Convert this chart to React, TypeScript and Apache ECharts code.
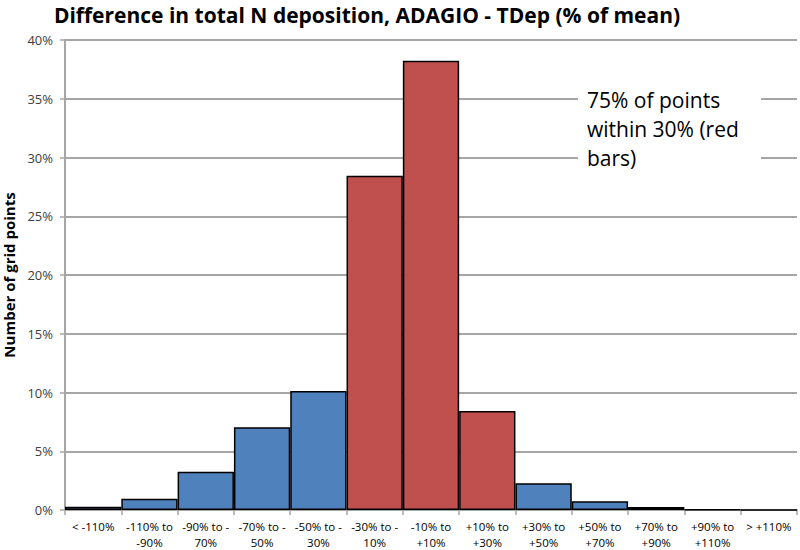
import React, { useEffect, useRef } from "react";
import * as echarts from "echarts";

const categories = [
  "< -110%",
  "-110% to\n-90%",
  "-90% to -\n70%",
  "-70% to -\n50%",
  "-50% to -\n30%",
  "-30% to -\n10%",
  "-10% to\n+10%",
  "+10% to\n+30%",
  "+30% to\n+50%",
  "+50% to\n+70%",
  "+70% to\n+90%",
  "+90% to\n+110%",
  "> +110%",
];
const percentOfPoints = [0.28, 0.95, 3.26, 7.04, 10.13, 28.45, 38.24, 8.43, 2.27, 0.74, 0.26, 0.03, 0];
const withinThirty = [false, false, false, false, false, true, true, true, false, false, false, false, false];
const yTicks = { min: 0, max: 40, interval: 5 };
const titleText = "Difference in total N deposition, ADAGIO - TDep (% of mean)";
const noteText = "75% of points\nwithin 30% (red\nbars)";

const BLUE = "#4F81BD";
const RED = "#C0504D";

export default function App() {
  const ref = useRef<HTMLDivElement>(null);
  useEffect(() => {
    if (!ref.current) return;
    const chart = echarts.init(ref.current, null, { renderer: "svg" });
    chart.setOption({
      animation: false,
      backgroundColor: "#ffffff",
      title: {
        text: titleText,
        left: 362,
        textAlign: "center",
        top: -1,
        textStyle: { fontFamily: "Open Sans", fontWeight: "bold", fontSize: 21, color: "#000" },
      },
      grid: { left: 65, right: 3, top: 40, bottom: 40, containLabel: false, outerBoundsMode: "none" },
      xAxis: {
        type: "category",
        data: categories,
        axisLine: { lineStyle: { color: "#A6A6A6", width: 2 } },
        axisTick: { show: true, length: 5, lineStyle: { color: "#A6A6A6", width: 1.5 } },
        axisLabel: {
          interval: 0,
          fontFamily: "Open Sans",
          fontSize: 11.5,
          color: "#000",
          lineHeight: 16,
          margin: 8,
        },
      },
      yAxis: {
        type: "value",
        min: yTicks.min,
        max: yTicks.max,
        interval: yTicks.interval,
        name: "Number of grid points",
        nameLocation: "middle",
        nameRotate: 90,
        nameGap: 45,
        nameTextStyle: { fontFamily: "Open Sans", fontWeight: "bold", fontSize: 15, color: "#000" },
        axisLine: { show: true, lineStyle: { color: "#A6A6A6", width: 2 } },
        axisTick: { show: true, length: 5, lineStyle: { color: "#A6A6A6", width: 1.5 } },
        axisLabel: {
          formatter: "{value}%",
          fontFamily: "Open Sans",
          fontSize: 13,
          color: "#404040",
          margin: 12,
        },
        splitLine: { lineStyle: { color: "#A6A6A6", width: 2 } },
      },
      series: [
        {
          type: "bar",
          data: percentOfPoints,
          barWidth: "100%",
          barCategoryGap: "0%",
          itemStyle: {
            color: (p: any) => (withinThirty[p.dataIndex] ? RED : BLUE),
            borderColor: "#000",
            borderWidth: 1.5,
          },
        },
      ],
      graphic: [
        {
          type: "rect",
          shape: { x: 578, y: 82, width: 183, height: 92 },
          style: { fill: "#ffffff" },
          z: 10,
        },
        {
          type: "text",
          left: 587,
          top: 85,
          z: 11,
          style: {
            text: noteText,
            fontFamily: "Open Sans",
            fontSize: 21,
            lineHeight: 29,
            fill: "#000",
          },
        },
      ],
    });
    return () => chart.dispose();
  }, []);
  return <div ref={ref} style={{ width: 800, height: 550, position: "absolute", left: 0, top: 0 }} />;
}
